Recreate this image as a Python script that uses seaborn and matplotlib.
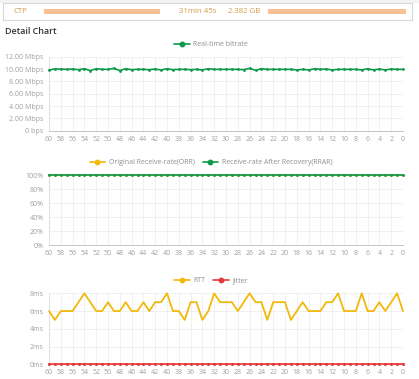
import matplotlib
matplotlib.use("Agg")
import matplotlib.pyplot as plt
import matplotlib.ticker as mticker
from matplotlib.lines import Line2D
from matplotlib.patches import Rectangle
import seaborn as sns
import pandas as pd

sns.set_style("white")
plt.rcParams['font.family'] = ['Open Sans', 'DejaVu Sans']

# ---- data ----
seconds = [60, 59, 58, 57, 56, 55, 54, 53, 52, 51, 50, 49, 48, 47, 46, 45, 44, 43, 42, 41,
           40, 39, 38, 37, 36, 35, 34, 33, 32, 31, 30, 29, 28, 27, 26, 25, 24, 23, 22, 21,
           20, 19, 18, 17, 16, 15, 14, 13, 12, 11, 10, 9, 8, 7, 6, 5, 4, 3, 2, 1, 0]

bitrate_mbps = [9.85, 10.0, 10.0, 9.95, 10.0, 9.9, 10.05, 9.75, 10.05, 9.95,
                9.95, 10.1, 9.75, 10.05, 9.9, 9.95, 9.95, 9.9, 10.0, 9.85,
                10.05, 9.9, 9.95, 9.95, 9.9, 9.95, 9.85, 10.05, 9.95, 9.95,
                9.95, 9.95, 9.95, 9.9, 10.1, 9.8, 10.05, 9.95, 9.95, 9.95,
                9.95, 9.95, 9.85, 9.95, 9.85, 10.05, 9.95, 10.0, 9.85, 9.95,
                9.95, 9.95, 9.95, 9.85, 10.05, 9.85, 10.0, 9.85, 10.0, 9.95, 9.95]

orr_pct = [100, 100, 100, 100, 100, 100, 100, 100, 100, 100, 100, 100, 100, 100, 100, 100,
           100, 100, 100, 100, 100, 100, 100, 100, 100, 100, 100, 100, 100, 100, 100, 100,
           100, 100, 100, 100, 100, 100, 100, 100, 100, 100, 100, 100, 100, 100, 100, 100,
           100, 100, 100, 100, 100, 100, 100, 100, 100, 100, 100, 100, 100]
rrar_pct = [100, 100, 100, 100, 100, 100, 100, 100, 100, 100, 100, 100, 100, 100, 100, 100,
            100, 100, 100, 100, 100, 100, 100, 100, 100, 100, 100, 100, 100, 100, 100, 100,
            100, 100, 100, 100, 100, 100, 100, 100, 100, 100, 100, 100, 100, 100, 100, 100,
            100, 100, 100, 100, 100, 100, 100, 100, 100, 100, 100, 100, 100]

rtt_ms = [6, 5, 6, 6, 6, 7, 8, 7, 6, 6, 7, 6, 6, 7, 6, 6, 7, 6, 7, 7,
          8, 6, 6, 5, 7, 7, 5, 6, 8, 7, 7, 7, 6, 7, 8, 7, 7, 5, 7, 7,
          7, 5, 6, 7, 6, 6, 6, 7, 7, 8, 6, 6, 6, 8, 6, 6, 7, 6, 7, 8, 6]
jitter_ms = [0, 0, 0, 0, 0, 0, 0, 0, 0, 0, 0, 0, 0, 0, 0, 0, 0, 0, 0, 0,
             0, 0, 0, 0, 0, 0, 0, 0, 0, 0, 0, 0, 0, 0, 0, 0, 0, 0, 0, 0,
             0, 0, 0, 0, 0, 0, 0, 0, 0, 0, 0, 0, 0, 0, 0, 0, 0, 0, 0, 0, 0]

x_ticks = [60, 58, 56, 54, 52, 50, 48, 46, 44, 42, 40, 38, 36, 34, 32, 30, 28, 26, 24, 22,
           20, 18, 16, 14, 12, 10, 8, 6, 4, 2, 0]
bitrate_ticks = [0, 2, 4, 6, 8, 10, 12]
pct_ticks = [0, 20, 40, 60, 80, 100]
ms_ticks = [0, 2, 4, 6, 8]

row_label = "CTP"
row_duration = "31min 45s"
row_size = "2.382 GB"
section_title = "Detail Chart"

# ---- styling ----
GREEN = "#0e9a4c"
YELLOW = "#f2b80a"
RED = "#e4393c"
GRID = "#eeeeee"
TICKC = "#a0a0a0"
TXT = "#8f8f8f"

W, H = 419, 379
fig = plt.figure(figsize=(W / 100, H / 100), dpi=100)
fig.patch.set_facecolor("white")


def px_axes(left, top, right, bottom):
    return fig.add_axes([left / W, 1 - bottom / H, (right - left) / W, (bottom - top) / H])


# top row box
fig.add_artist(Rectangle((3 / W, 1 - 19.5 / H), 409 / W, 17 / H, transform=fig.transFigure,
                         facecolor="white", edgecolor="#d6d6d6", linewidth=0.8))
fig.add_artist(Rectangle((0 / W, 1 - 2.5 / H), 419 / W, 2.5 / H, transform=fig.transFigure,
                         facecolor="#f3f3f3", edgecolor="none"))
ROWC = "#d29a4a"
fig.text(13 / W, 1 - 11.5 / H, row_label, fontsize=5.6, color=ROWC, va="center")
fig.text(179 / W, 1 - 11.5 / H, row_duration, fontsize=5.6, color=ROWC, va="center")
fig.text(228 / W, 1 - 11.5 / H, row_size, fontsize=5.6, color=ROWC, va="center")
# redaction smudges
for x0, x1 in [(44, 160), (268, 406)]:
    fig.add_artist(Rectangle((x0 / W, 1 - 14 / H), (x1 - x0) / W, 5 / H, transform=fig.transFigure,
                             facecolor="#f6b27a", edgecolor="none", alpha=0.8))

fig.text(5 / W, 1 - 31 / H, section_title, fontsize=6.4, color="#333333", va="center",
         fontweight="semibold")


def style_axes(ax, yticks, ymax, fmt):
    ax.set_xlim(60, 0)
    ax.set_ylim(0, ymax)
    ax.set_xticks(x_ticks)
    ax.set_xticklabels([str(v) for v in x_ticks])
    ax.set_yticks(yticks)
    ax.yaxis.set_major_formatter(mticker.FuncFormatter(fmt))
    ax.grid(True, color=GRID, linewidth=0.6)
    ax.set_axisbelow(True)
    for s in ["top", "right"]:
        ax.spines[s].set_visible(False)
    ax.spines["left"].set_color("#dddddd")
    ax.spines["left"].set_linewidth(0.6)
    ax.spines["bottom"].set_color("#bbbbbb")
    ax.spines["bottom"].set_linewidth(0.6)
    ax.tick_params(axis="x", labelsize=5, colors=TICKC, length=2, width=0.5, pad=1.5)
    ax.tick_params(axis="y", labelsize=5, colors=TICKC, length=0, pad=4)
    ax.set_xlabel("")
    ax.set_ylabel("")
    leg = ax.get_legend()
    if leg is not None:
        leg.remove()
    for ln in ax.get_lines():
        ln.set_clip_on(False)
        ln.set_zorder(5)


def legend_handle(color):
    return Line2D([0], [0], color=color, linewidth=1.2, marker="o", markersize=3.2,
                  markerfacecolor=color, markeredgecolor=color)


# chart 1: bitrate
ax1 = px_axes(49, 56.7, 403, 130.7)
df1 = pd.DataFrame({"t": seconds, "v": bitrate_mbps})
sns.lineplot(data=df1, x="t", y="v", ax=ax1, color=GREEN, linewidth=1.2,
             marker="o", markersize=2.0, markeredgewidth=0)
style_axes(ax1, bitrate_ticks, 12,
           lambda v, p: "0 bps" if v == 0 else f"{v:.2f} Mbps")
fig.legend([legend_handle(GREEN)], ["Real-time bitrate"], loc="center",
           bbox_to_anchor=(211 / W, 1 - 44.5 / H), frameon=False, fontsize=5,
           labelcolor=TXT, handlelength=2.2, handletextpad=0.5)

# chart 2: receive rates
ax2 = px_axes(49, 175.3, 403, 245.3)
df2 = pd.DataFrame({"t": seconds + seconds,
                    "v": orr_pct + rrar_pct,
                    "s": ["ORR"] * len(seconds) + ["RRAR"] * len(seconds)})
sns.lineplot(data=df2, x="t", y="v", hue="s", palette={"ORR": YELLOW, "RRAR": GREEN},
             ax=ax2, linewidth=1.2, marker="o", markersize=2.0, markeredgewidth=0)
style_axes(ax2, pct_ticks, 100, lambda v, p: f"{int(v)}%")
fig.legend([legend_handle(YELLOW), legend_handle(GREEN)],
           ["Original Receive-rate(ORR)", "Receive-rate After Recovery(RRAR)"],
           loc="center", bbox_to_anchor=(211 / W, 1 - 163 / H), frameon=False, fontsize=5,
           labelcolor=TXT, ncol=2, handlelength=2.2, handletextpad=0.5, columnspacing=1.2)

# chart 3: RTT / Jitter
ax3 = px_axes(49, 293.3, 403, 364.3)
df3 = pd.DataFrame({"t": seconds + seconds,
                    "v": rtt_ms + jitter_ms,
                    "s": ["RTT"] * len(seconds) + ["Jitter"] * len(seconds)})
sns.lineplot(data=df3, x="t", y="v", hue="s", palette={"RTT": YELLOW, "Jitter": RED},
             ax=ax3, linewidth=1.3, marker="o", markersize=0.01, markeredgewidth=0)
style_axes(ax3, ms_ticks, 8, lambda v, p: f"{int(v)}ms")
for ln in ax3.get_lines():
    c = matplotlib.colors.to_hex(ln.get_color())
    if c.lower() == RED.lower():
        ln.set_markersize(2.2)
        ln.set_linewidth(1.2)
        ln.set_zorder(6)
fig.legend([legend_handle(YELLOW), legend_handle(RED)], ["RTT", "Jitter"],
           loc="center", bbox_to_anchor=(211 / W, 1 - 281 / H), frameon=False, fontsize=5,
           labelcolor=TXT, ncol=2, handlelength=2.2, handletextpad=0.5, columnspacing=1.2)

fig.savefig("out.png", dpi=100, facecolor="white")
